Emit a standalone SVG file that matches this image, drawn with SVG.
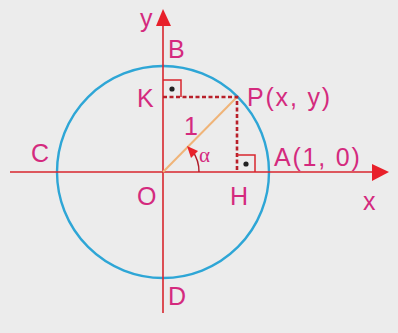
<svg xmlns="http://www.w3.org/2000/svg" width="398" height="333" viewBox="0 0 398 333">
<defs>
<style>
.lbl{font-family:"Liberation Sans",Arial,sans-serif;font-size:25px;fill:#d42a7e;}
.wide{letter-spacing:1.8px;}
.axis{stroke:#d8262e;stroke-width:1.6;fill:none;}
.dash{stroke:#b8202a;stroke-width:2.6;stroke-dasharray:4 2.5;fill:none;}
.sq{stroke:#d8262e;stroke-width:1.5;fill:none;}
</style>
</defs>
<rect width="398" height="333" fill="#ececec"/>
<g id="circle"><circle cx="163" cy="172" r="106" fill="none" stroke="#2ea6d6" stroke-width="2.4"/></g>
<g id="connectors">
<line class="axis" x1="10" y1="172" x2="374" y2="172"/>
<path d="M372,164 L389,172 L372,181 z" fill="#e8202a"/>
<line class="axis" x1="163" y1="313" x2="163" y2="24"/>
<path d="M156,26 L163,9 L171,26 z" fill="#e8202a"/>
<line x1="163" y1="172" x2="237" y2="97" stroke="#f0b478" stroke-width="2"/>
<polyline class="dash" points="163,97 237,97 237,172"/>
<polyline class="sq" points="163,80 181,80 181,97"/>
<polyline class="sq" points="237,155 255,155 255,172"/>
<circle cx="172" cy="89" r="2.6" fill="#222"/>
<circle cx="246" cy="164" r="2.6" fill="#222"/>
<path d="M199,172 A36,36 0 0 0 192.5,151" fill="none" stroke="#b01c2a" stroke-width="1.4"/>
<path d="M187,146 L198,151 L191,158 z" fill="#e8202a"/>
</g>
<g id="labels">
<text class="lbl" x="140" y="27">y</text>
<text class="lbl" x="168" y="58">B</text>
<text class="lbl" x="137" y="107">K</text>
<text class="lbl wide" x="247" y="106">P(x, y)</text>
<text class="lbl" x="184" y="135">1</text>
<text class="lbl" x="199" y="162" style="font-family:'Liberation Serif',serif;font-size:21px">α</text>
<text class="lbl" x="31" y="162">C</text>
<text class="lbl wide" x="274" y="166">A(1, 0)</text>
<text class="lbl" x="137" y="205">O</text>
<text class="lbl" x="230" y="205">H</text>
<text class="lbl" x="363" y="210">x</text>
<text class="lbl" x="168" y="305">D</text>
</g>
</svg>
